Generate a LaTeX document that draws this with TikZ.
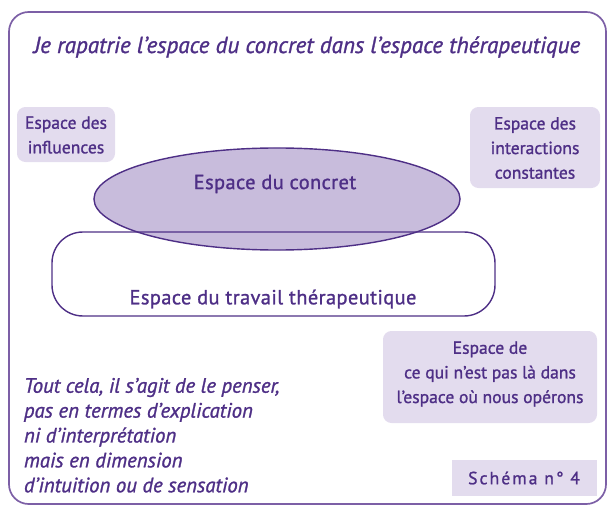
\documentclass[tikz,border=0pt]{standalone}
\usepackage{fontspec}
\setmainfont{PT Sans}[FakeBold=1.2]
\usepackage{tikz}
\usetikzlibrary{positioning,shapes.geometric}

\definecolor{violet}{HTML}{4E2F86}
\definecolor{cadre}{HTML}{7C5FA6}
\definecolor{lilas}{HTML}{E3DCEE}
\definecolor{mauve}{HTML}{C8BCDC}

\begin{document}
\begin{tikzpicture}[x=0.025cm,y=-0.025cm,font=\fontsize{12.5}{17.5}\selectfont,text=violet]
  \tikzstyle{zone}=[fill=lilas,rounded corners=6pt]
  \tikzstyle{label}=[font=\fontsize{14.5}{18}\selectfont\addfontfeature{LetterSpace=2}]
  \tikzstyle{note}=[font=\fontsize{14.8}{17.7}\selectfont\itshape,align=left,anchor=north west]

  \useasboundingbox (0,0) rectangle (608,506);
  \draw[cadre,line width=1.2pt,rounded corners=14pt] (9,12) rectangle (606,504);

  \node (T) at (307,47) {\fontsize{16.5}{19}\selectfont\itshape Je rapatrie l'espace du concret dans l'espace thérapeutique};

  \fill[zone] (17,107) rectangle (115,162);
  \node[align=center] (I) at (66,135) {Espace des\\influences};

  \fill[zone] (470,107) rectangle (600,188);
  \node[align=center] (C) at (535,148) {Espace des\\interactions\\constantes};

  \node[ellipse,draw=violet,fill=mauve,line width=1pt,inner sep=0pt,minimum width=9.15cm,minimum height=2.55cm] (E) at (277,199) {};
  \draw[violet,line width=1pt,rounded corners=22pt] (52,232) rectangle (495,316);
  \node[label] (Ec) at (275,184) {Espace du concret};
  \node[label] (Et) at (273,299) {Espace du travail thérapeutique};

  \fill[zone] (383,331) rectangle (597,423);
  \node[align=center] (A) at (490,374) {Espace de\\ce qui n'est pas là dans\\l'espace où nous opérons};

  \node[note] (N) at (19,373) {Tout cela, il s'agit de le penser,\\pas en termes d'explication\\ni d'interprétation\\mais en dimension\\d'intuition ou de sensation};

  \fill[lilas] (452,460) rectangle (597,496);
  \node (S) at (524,478) {\addfontfeature{LetterSpace=12}Schéma n° 4};
\end{tikzpicture}
\end{document}
